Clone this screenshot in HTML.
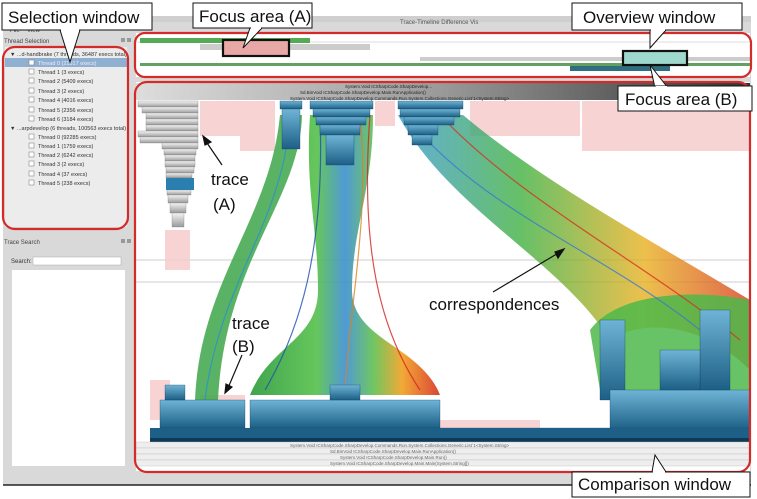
<!DOCTYPE html>
<html><head><meta charset="utf-8"><style>
html,body{margin:0;padding:0;background:#fff;}
svg{display:block;font-family:"Liberation Sans",sans-serif;}
</style></head><body>
<svg width="757" height="499" viewBox="0 0 757 499" xmlns="http://www.w3.org/2000/svg">
<defs>
<linearGradient id="blu" x1="0" y1="0" x2="0" y2="1"><stop offset="0" stop-color="#6fb4d6"/><stop offset="1" stop-color="#1d5f86"/></linearGradient>
<linearGradient id="gry" x1="0" y1="0" x2="0" y2="1"><stop offset="0" stop-color="#f4f4f4"/><stop offset="1" stop-color="#9a9a9a"/></linearGradient>
<linearGradient id="hdr" x1="0" y1="0" x2="1" y2="0"><stop offset="0" stop-color="#ddd"/><stop offset="0.5" stop-color="#999"/><stop offset="1" stop-color="#333"/></linearGradient>
<linearGradient id="fan" x1="0" y1="0" x2="1" y2="0"><stop offset="0" stop-color="#2a9a3a"/><stop offset="0.35" stop-color="#55c04a"/><stop offset="0.5" stop-color="#3c8fd0"/><stop offset="0.65" stop-color="#60c050"/><stop offset="0.8" stop-color="#f0a020"/><stop offset="1" stop-color="#d83020"/></linearGradient>
<linearGradient id="fan2" x1="0" y1="0" x2="1" y2="0"><stop offset="0" stop-color="#3a9ad0"/><stop offset="0.35" stop-color="#40b040"/><stop offset="0.7" stop-color="#e8b020"/><stop offset="1" stop-color="#d84020"/></linearGradient>
</defs>
<rect x="3" y="16" width="748" height="469" fill="#d9d9d9"/>
<line x1="3" y1="485" x2="751" y2="485" stroke="#222" stroke-width="1.5"/>
<rect x="3" y="16" width="748" height="6" fill="#cfcfcf"/>
<text x="400" y="24" font-size="6" fill="#555">Trace-Timeline Difference Vis</text>
<text x="10" y="32" font-size="6" fill="#444">File</text><text x="27" y="32" font-size="6" fill="#444">View</text>
<text x="4" y="43" font-size="6" fill="#444">Thread Selection</text>
<rect x="121" y="38" width="4" height="4" fill="#999"/><rect x="127" y="38" width="4" height="4" fill="#999"/>
<rect x="5" y="47" width="122" height="180" fill="#ececec"/>
<rect x="5" y="58" width="123" height="9" fill="#8fb0d0"/>
<g font-size="5.5" fill="#333">
<text x="10" y="56">▼ ...d-handbrake (7 threads, 36487 execs total)</text>
<text x="38" y="65" fill="#eef">Thread 0 (21517 execs)</text>
<text x="38" y="74">Thread 1 (3 execs)</text>
<text x="38" y="83">Thread 2 (5409 execs)</text>
<text x="38" y="93">Thread 3 (2 execs)</text>
<text x="38" y="102">Thread 4 (4016 execs)</text>
<text x="38" y="112">Thread 5 (2356 execs)</text>
<text x="38" y="121">Thread 6 (3184 execs)</text>
<text x="10" y="130">▼ ...arpdevelop (6 threads, 100563 execs total)</text>
<text x="38" y="139">Thread 0 (92285 execs)</text>
<text x="38" y="148">Thread 1 (1759 execs)</text>
<text x="38" y="157">Thread 2 (6242 execs)</text>
<text x="38" y="166">Thread 3 (2 execs)</text>
<text x="38" y="176">Thread 4 (37 execs)</text>
<text x="38" y="185">Thread 5 (238 execs)</text>
</g>
<g fill="#fff" stroke="#888" stroke-width="0.6">
<rect x="29" y="60" width="5" height="5"/><rect x="29" y="69" width="5" height="5"/><rect x="29" y="78" width="5" height="5"/><rect x="29" y="88" width="5" height="5"/><rect x="29" y="97" width="5" height="5"/><rect x="29" y="107" width="5" height="5"/><rect x="29" y="116" width="5" height="5"/><rect x="29" y="134" width="5" height="5"/><rect x="29" y="143" width="5" height="5"/><rect x="29" y="152" width="5" height="5"/><rect x="29" y="161" width="5" height="5"/><rect x="29" y="171" width="5" height="5"/><rect x="29" y="180" width="5" height="5"/>
</g>
<rect x="3" y="47" width="125" height="182" rx="12" fill="none" stroke="#d42a2a" stroke-width="2.2"/>
<text x="4" y="244" font-size="6" fill="#444">Trace Search</text>
<rect x="121" y="239" width="4" height="4" fill="#999"/><rect x="127" y="239" width="4" height="4" fill="#999"/>
<text x="11" y="263" font-size="6" fill="#333">Search:</text>
<rect x="33" y="257" width="88" height="8" fill="#fff" stroke="#aaa" stroke-width="0.5"/>
<rect x="12" y="270" width="113" height="196" fill="#fff"/>
<!-- overview -->
<rect x="136" y="33" width="614" height="44" fill="#fff"/>
<line x1="136" y1="42" x2="750" y2="42" stroke="#bbb" stroke-width="0.6"/>
<rect x="140" y="38" width="170" height="5" fill="#5a5"/>
<rect x="200" y="44" width="170" height="6" fill="#ccc"/>
<rect x="420" y="57" width="330" height="4" fill="#ccc"/>
<rect x="140" y="63" width="610" height="3" fill="#3a8a3a" opacity="0.8"/>
<rect x="570" y="66" width="100" height="5" fill="#2f6f80"/>
<rect x="223" y="40" width="66" height="16" fill="#e8a8a8"/>
<rect x="223" y="40" width="66" height="16" fill="none" stroke="#111" stroke-width="2.2"/>
<rect x="623" y="51" width="64" height="14" fill="#9fd8cc"/>
<rect x="623" y="51" width="64" height="14" fill="none" stroke="#111" stroke-width="2.2"/>
<rect x="135" y="33" width="616" height="44" rx="10" fill="none" stroke="#d42a2a" stroke-width="2.2"/>
<!-- comparison -->
<rect x="136" y="82" width="614" height="389" fill="#fff"/>
<rect x="136" y="83" width="614" height="17" fill="url(#hdr)"/>
<g font-size="4.5" fill="#222"><text x="345" y="88">System.Void ICSharpCode.SharpDevelop...</text><text x="300" y="94">Sd.BinVoid ICSharpCode.SharpDevelop.Main.RunApplication()</text><text x="290" y="100">System.Void ICSharpCode.SharpDevelop.Commands.Run.System.Collections.Generic.List`1&lt;System.String&gt;</text></g>
<line x1="136" y1="260" x2="750" y2="260" stroke="#bbb" stroke-width="0.7"/>
<line x1="136" y1="282" x2="750" y2="282" stroke="#bbb" stroke-width="0.7"/>
<g fill="#f6cccc" opacity="0.85">
<rect x="200" y="101" width="75" height="35"/><rect x="240" y="101" width="35" height="50"/><rect x="375" y="101" width="20" height="25"/><rect x="470" y="101" width="110" height="35"/><rect x="582" y="101" width="168" height="50"/>
<rect x="165" y="230" width="25" height="40"/><rect x="200" y="395" width="45" height="25"/><rect x="440" y="420" width="100" height="10"/><rect x="150" y="380" width="20" height="40"/>
</g>
<g fill="url(#gry)" stroke="#777" stroke-width="0.3">
<rect x="138" y="101" width="60" height="6"/><rect x="142" y="107" width="56" height="6"/><rect x="146" y="113" width="52" height="6"/><rect x="146" y="119" width="52" height="6"/><rect x="146" y="125" width="52" height="6"/><rect x="138" y="131" width="60" height="6"/><rect x="140" y="137" width="58" height="6"/><rect x="162" y="143" width="36" height="6"/><rect x="164" y="149" width="32" height="6"/><rect x="165" y="155" width="30" height="6"/><rect x="165" y="161" width="30" height="6"/><rect x="166" y="167" width="28" height="6"/><rect x="166" y="173" width="26" height="5"/><rect x="167" y="190" width="24" height="5"/><rect x="168" y="195" width="20" height="8"/><rect x="170" y="203" width="16" height="10"/><rect x="172" y="213" width="12" height="14"/>
</g>
<rect x="166" y="178" width="28" height="12" fill="#2a7fb0"/>
<!-- fans -->
<path d="M280 115 L302 115 C300 200 225 260 218 400 L195 400 C200 280 270 220 280 115Z" fill="#3da64a" opacity="0.85"/>
<path d="M310 115 L373 115 C373 190 352 230 352 290 C352 340 420 345 440 395 L250 395 C270 345 318 340 318 290 C318 230 305 190 310 115Z" fill="url(#fan)" opacity="0.9"/>
<path d="M398 115 L463 115 C540 180 650 240 750 300 L750 370 C700 320 640 320 610 340 C560 260 450 210 398 115Z" fill="url(#fan2)" opacity="0.8"/>
<path d="M590 330 C620 290 700 290 750 300 L750 390 L600 390Z" fill="#4cb84a" opacity="0.85"/>
<g fill="none" stroke-width="1.2" opacity="0.8">
<path d="M290 115 C285 220 220 280 205 400" stroke="#2a8fd0"/><path d="M440 115 C520 200 640 260 740 340" stroke="#d83020"/><path d="M405 115 C480 210 600 250 700 330" stroke="#3a7ad0"/><path d="M360 115 C370 220 350 300 345 390" stroke="#e08020"/><path d="M320 115 C325 250 300 330 265 390" stroke="#2050b0"/><path d="M370 115 C360 250 380 330 420 390" stroke="#d82020"/>
</g>
<g fill="url(#blu)" stroke="#0e3a58" stroke-width="0.3">
<rect x="280" y="101" width="22" height="8"/><rect x="282" y="109" width="18" height="40"/>
<rect x="310" y="101" width="63" height="8"/><rect x="313" y="109" width="57" height="8"/><rect x="316" y="117" width="50" height="8"/><rect x="320" y="125" width="40" height="10"/><rect x="326" y="135" width="28" height="30"/>
<rect x="398" y="101" width="65" height="8"/><rect x="400" y="109" width="60" height="8"/><rect x="404" y="117" width="50" height="8"/><rect x="408" y="125" width="30" height="10"/><rect x="412" y="135" width="20" height="10"/>
</g>
<g fill="url(#blu)" stroke="#0e3a58" stroke-width="0.3">
<rect x="160" y="400" width="85" height="28"/><rect x="165" y="385" width="20" height="15"/>
<rect x="250" y="400" width="190" height="28"/><rect x="330" y="385" width="30" height="15"/>
<rect x="600" y="320" width="25" height="80"/><rect x="610" y="390" width="140" height="40"/><rect x="700" y="310" width="30" height="80"/><rect x="660" y="350" width="40" height="40"/>
<rect x="440" y="428" width="310" height="10"/>
</g>
<rect x="150" y="428" width="600" height="12" fill="#1d5f86"/>
<rect x="150" y="438" width="600" height="4" fill="#0e3a58"/>
<g fill="#eee" stroke="#bbb" stroke-width="0.4">
<rect x="136" y="442" width="614" height="6"/><rect x="136" y="448" width="614" height="6"/><rect x="136" y="454" width="614" height="6"/><rect x="136" y="460" width="614" height="6"/>
</g>
<g font-size="4.5" fill="#666"><text x="290" y="447">System.Void ICSharpCode.SharpDevelop.Commands.Run.System.Collections.Generic.List`1&lt;System.String&gt;</text><text x="330" y="453">Sd.BinVoid ICSharpCode.SharpDevelop.Main.RunApplication()</text><text x="340" y="459">System.Void ICSharpCode.SharpDevelop.Main.Run()</text><text x="330" y="465">System.Void ICSharpCode.SharpDevelop.Main.Main(System.String[])</text></g>
<rect x="135" y="82" width="615" height="390" rx="12" fill="none" stroke="#d42a2a" stroke-width="2.2"/>
<g stroke="#111" stroke-width="1.2" fill="#111">
<line x1="222" y1="165" x2="205" y2="140"/><polygon points="203,136 211,142 205,145"/>
<line x1="242" y1="355" x2="228" y2="388"/><polygon points="225,393 226,384 232,387"/>
<line x1="493" y1="292" x2="560" y2="252"/><polygon points="564,249 558,258 555,252"/>
</g>
<g font-size="17" fill="#111">
<text x="211" y="185">trace</text><text x="213" y="210">(A)</text>
<text x="232" y="329">trace</text><text x="232" y="352">(B)</text>
<text x="429" y="310">correspondences</text>
</g>
<g fill="#fff" stroke="#111" stroke-width="1">
<polygon points="60,30 80,30 70,62"/>
<rect x="2" y="3" width="150" height="27"/>
<polygon points="250,28 262,28 243,48"/>
<rect x="193" y="3" width="119" height="25"/>
<polygon points="650,30 666,30 650,48"/>
<rect x="572" y="3" width="170" height="27"/>
<polygon points="655,88 668,88 650,65"/>
<rect x="618" y="86" width="134" height="25"/>
<polygon points="652,472 666,472 655,455"/>
<rect x="572" y="472" width="178" height="25"/>
</g>
<g fill="#fff"><rect x="61" y="29" width="18" height="2"/><rect x="251" y="27" width="10" height="2"/><rect x="651" y="29" width="14" height="2"/><rect x="656" y="86" width="11" height="2"/><rect x="653" y="471" width="12" height="2"/></g>
<g font-size="17" fill="#111">
<text x="8" y="23">Selection window</text>
<text x="199" y="22">Focus area (A)</text>
<text x="583" y="23">Overview window</text>
<text x="625" y="105">Focus area (B)</text>
<text x="578" y="490">Comparison window</text>
</g>
</svg>
</body></html>
